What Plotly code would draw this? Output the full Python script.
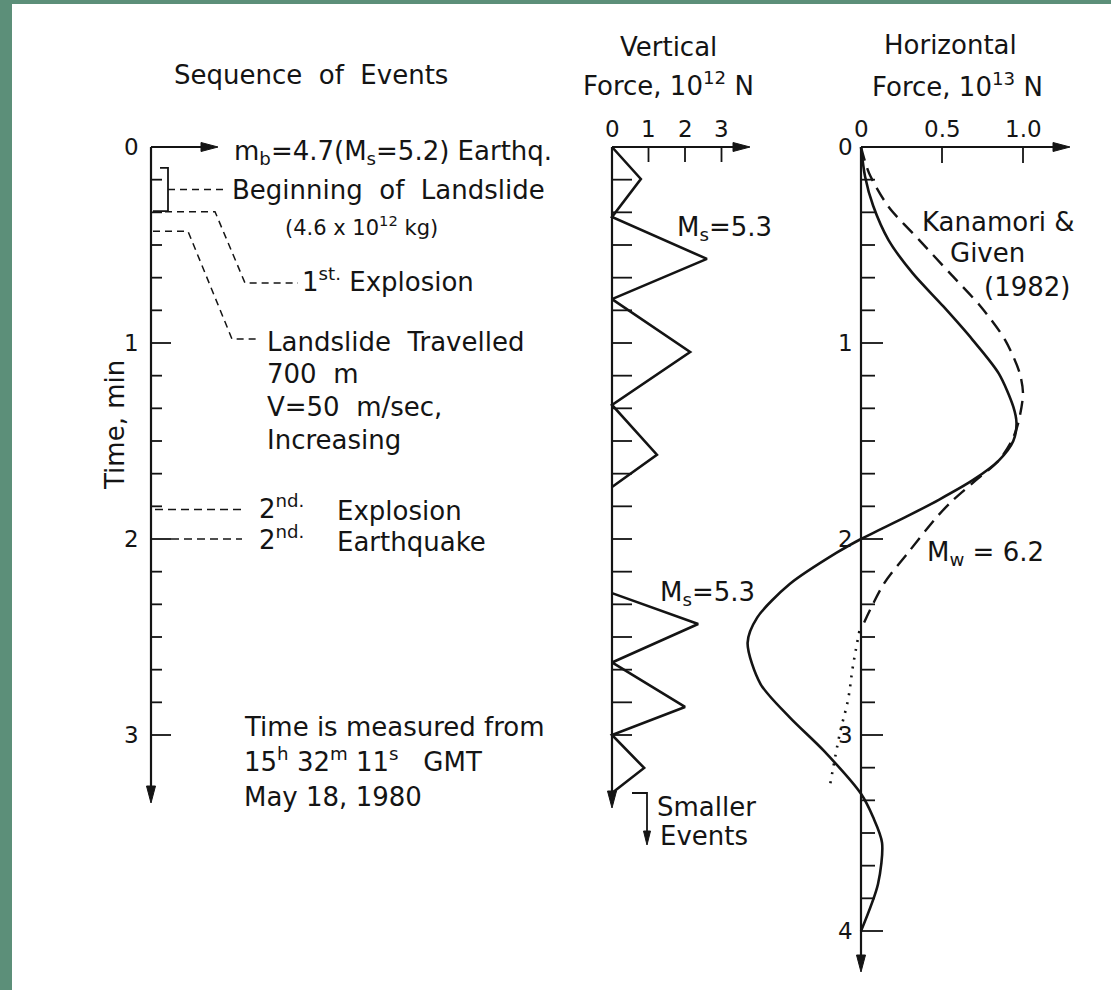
import plotly.graph_objects as go

W, H = 1111, 990
FONT = "DejaVu Sans"
INK = "#141414"
GREEN = "#5c8f79"

# ---------------- data ----------------
# Vertical force, 10^12 N, versus time in minutes
vf_time = [0.0, 0.163, 0.357, 0.571, 0.776, 1.046, 1.316, 1.57, 1.735, None,
           2.276, 2.434, 2.63, 2.857, 3.0, 3.168, 3.296]
vf_force = [0.0, 0.79, 0.0, 2.60, 0.0, 2.14, 0.0, 1.23, 0.0, None,
            0.0, 2.36, 0.0, 2.00, 0.0, 0.88, 0.0]

# Horizontal force, 10^13 N (solid curve)
hf_time = [0.0, 0.15, 0.30, 0.475, 0.645, 0.815, 0.985, 1.155, 1.325, 1.41, 1.50,
           1.60, 1.70, 1.80, 1.886, 2.0, 2.07, 2.23, 2.40, 2.53, 2.74, 2.91, 3.08,
           3.30, 3.42, 3.55, 3.76, 4.0]
hf_force = [0.0, 0.025, 0.075, 0.17, 0.32, 0.51, 0.69, 0.85, 0.94, 0.96, 0.94,
            0.85, 0.69, 0.48, 0.28, 0.0, -0.15, -0.44, -0.64, -0.70, -0.62, -0.44, -0.23,
            0.0, 0.075, 0.13, 0.105, 0.0]

# Kanamori & Given (1982) (dashed curve)
kg_time = [0.0, 0.134, 0.305, 0.475, 0.645, 0.815, 0.985, 1.155, 1.26, 1.41, 1.50,
           1.60, 1.70, 1.80, 1.886, 2.06, 2.23, 2.46]
kg_force = [0.0, 0.05, 0.17, 0.36, 0.55, 0.74, 0.89, 0.98, 1.0, 0.97, 0.93,
            0.85, 0.71, 0.57, 0.47, 0.30, 0.14, 0.0]

# dotted branch
dot_time = [2.47, 2.65, 2.82, 2.99, 3.25]
dot_force = [-0.01, -0.05, -0.08, -0.13, -0.19]

# event times (min)
slide_begin = [0.107, 0.327]
explosion1_t = 0.33
travelled_t = 0.43
explosion2_t = 1.85
quake2_t = 2.0

time_ticks_left = [0, 1, 2, 3]
time_ticks_right = [0, 1, 2, 3, 4]
vf_ticks = [0, 1, 2, 3]
vf_tick_labels = ["0", "1", "2", "3"]
hf_ticks = [0, 0.5, 1.0]
hf_tick_labels = ["0", "0.5", "1.0"]

# ---------------- layout geometry (pixels) ----------------
Y0 = 147.0          # pixel row of t = 0
PPM = 196.0         # pixels per minute
XL = 151.0          # left time axis column (left panel x is in pixels)
XV0, PV = 612.0, 36.5    # vertical force axis origin and px per unit
XH0, PH = 861.0, 162.0   # horizontal force axis origin and px per unit


def row(yp):
    return (yp - Y0) / PPM


fig = go.Figure()


def line(x, y, xa="x", w=2.2, dash="solid", shape="linear", smoothing=1.0):
    fig.add_trace(go.Scatter(x=x, y=y, xaxis=xa, yaxis="y", mode="lines",
                             line=dict(color=INK, width=w, dash=dash, shape=shape,
                                       smoothing=smoothing),
                             hoverinfo="skip", showlegend=False))


shapes = []
annotations = []


def arrowhead(x, y, xref, direction, L=17, half=4.5):
    if direction == "down":
        path = f"M0,0 L{-half},{L} L{half},{L} Z"
    else:  # right
        path = f"M0,0 L{-L},{half} L{-L},{-half} Z"
    shapes.append(dict(type="path", xref=xref, yref="y", xsizemode="pixel", ysizemode="pixel",
                       xanchor=x, yanchor=y, path=path, fillcolor=INK,
                       line=dict(color=INK, width=1)))


def txt(s, xp, yp, size=26, anchor="left", angle=0):
    annotations.append(dict(text=s, x=xp / W, y=1 - yp / H, xref="paper", yref="paper",
                            xanchor=anchor, yanchor="middle", showarrow=False,
                            textangle=angle,
                            font=dict(size=size, family=FONT, color=INK)))


# ---------------- left panel : sequence of events ----------------
t_end_left = row(803)
line([XL, XL], [0, t_end_left - 0.03])
arrowhead(XL, t_end_left, "x", "down")
line([XL, 205], [0, 0])
arrowhead(218, 0, "x", "right")
tx, ty = [], []
for k in range(1, 19):
    t = k / 6
    L = 20 if k % 6 == 0 else 11
    tx += [XL, XL + L, None]
    ty += [t, t, None]
line(tx, ty, w=1.8)
for t in time_ticks_left:
    annotations.append(dict(text=str(t), x=XL, y=t, xref="x", yref="y", xanchor="right",
                            xshift=-10, yanchor="middle", showarrow=False,
                            font=dict(size=23, family=FONT, color=INK)))

# bracket for beginning of landslide
line([160, 168, 168, 153], [slide_begin[0], slide_begin[0], slide_begin[1], slide_begin[1]], w=1.8)
mid = (slide_begin[0] + slide_begin[1]) / 2
line([168, 226], [mid, mid], w=1.6, dash="7px,5px")
# leaders
line([153, 215, 245, 298], [explosion1_t, explosion1_t, row(283), row(283)], w=1.5, dash="7px,5px")
line([153, 188, 232, 258], [travelled_t, travelled_t, row(339), row(339)], w=1.5, dash="7px,5px")
line([155, 242], [explosion2_t, explosion2_t], w=1.5, dash="8px,5px")
line([171, 242], [quake2_t, quake2_t], w=1.6, dash="8px,5px")

txt("Sequence  of  Events", 311, 75, anchor="center")
txt("m<sub>b</sub>=4.7(M<sub>s</sub>=5.2) Earthq.", 232, 152)
txt("Beginning  of  Landslide", 230, 190)
txt("(4.6 x 10<sup>12</sup> kg)", 283, 226, size=21)
txt("1<sup>st.</sup> Explosion", 300, 280)
txt("Landslide  Travelled", 265, 342)
txt("700  m", 265, 374)
txt("V=50  m/sec,", 265, 407)
txt("Increasing", 265, 440)
txt("2<sup>nd.</sup>", 257, 507)
txt("Explosion", 335, 511)
txt("2<sup>nd.</sup>", 257, 538)
txt("Earthquake", 335, 542)
txt("Time is measured from", 242, 727)
txt("15<sup>h</sup> 32<sup>m</sup> 11<sup>s</sup>   GMT", 242, 760)
txt("May 18, 1980", 242, 797)
txt("Time, min", 98, 425, angle=-90)

# ---------------- middle panel : vertical force ----------------
t_end_mid = row(808)
line([0, 0], [0, t_end_mid - 0.03], xa="x2")
arrowhead(0, t_end_mid, "x2", "down")
v_end = (750 - XV0) / PV
line([0, v_end - 0.3], [0, 0], xa="x2")
arrowhead(v_end, 0, "x2", "right")
tx, ty = [], []
for k in range(1, 19):
    t = k / 6
    tx += [0, 20 / PV, None]
    ty += [t, t, None]
for v in vf_ticks[1:]:
    tx += [v, v, None]
    ty += [0, 15 / PPM, None]
line(tx, ty, xa="x2", w=1.8)
for v, lab in zip(vf_ticks, vf_tick_labels):
    annotations.append(dict(text=lab, x=v, y=0, xref="x2", yref="y", xanchor="center",
                            yanchor="middle", yshift=18, showarrow=False,
                            font=dict(size=23, family=FONT, color=INK)))
line(vf_force, vf_time, xa="x2", w=2.6)
# smaller events pointer
line([632, 647, 647], [row(793), row(793), row(832)], w=1.8)
arrowhead(647, row(845), "x", "down", L=14, half=3.5)

txt("Vertical", 668, 47, anchor="center")
txt("Force, 10<sup>12</sup> N", 668, 84, anchor="center")
txt("M<sub>s</sub>=5.3", 675, 228)
txt("M<sub>s</sub>=5.3", 658, 593)
txt("Smaller", 655, 807)
txt("Events", 658, 836)

# ---------------- right panel : horizontal force ----------------
t_end_r = row(972)
line([0, 0], [0, t_end_r - 0.03], xa="x3")
arrowhead(0, t_end_r, "x3", "down")
h_end = (1070 - XH0) / PH
line([0, h_end - 0.06], [0, 0], xa="x3")
arrowhead(h_end, 0, "x3", "right")
tx, ty = [], []
for k in range(1, 25):
    t = k / 6
    L = 22 if k % 6 == 0 else 14
    tx += [0, L / PH, None]
    ty += [t, t, None]
for v in hf_ticks[1:]:
    tx += [v, v, None]
    ty += [0, 16 / PPM, None]
line(tx, ty, xa="x3", w=1.8)
for v, lab in zip(hf_ticks, hf_tick_labels):
    annotations.append(dict(text=lab, x=v, y=0, xref="x3", yref="y", xanchor="center",
                            yanchor="middle", yshift=18, showarrow=False,
                            font=dict(size=23, family=FONT, color=INK)))
for t in time_ticks_right:
    annotations.append(dict(text=str(t), x=0, y=t, xref="x3", yref="y", xanchor="right",
                            xshift=-6, yanchor="middle", showarrow=False,
                            font=dict(size=23, family=FONT, color=INK)))

line(hf_force, hf_time, xa="x3", w=2.6, shape="spline", smoothing=0.8)
line(kg_force, kg_time, xa="x3", w=2.4, dash="14px,8px", shape="spline", smoothing=0.8)
line(dot_force, dot_time, xa="x3", w=2.6, dash="2px,7px", shape="spline")

txt("Horizontal", 950, 45, anchor="center")
txt("Force, 10<sup>13</sup> N", 957, 85, anchor="center")
txt("Kanamori &amp;", 998, 222, anchor="center")
txt("Given", 987, 253, anchor="center")
txt("(1982)", 1027, 287, anchor="center")
txt("M<sub>w</sub> = 6.2", 925, 553)

# white page on green frame
shapes.insert(0, dict(type="rect", xref="paper", yref="paper", x0=12 / W, x1=1, y0=0,
                      y1=1 - 4 / H, fillcolor="white", line=dict(width=0), layer="below"))

ax_common = dict(visible=False, domain=[0, 1], fixedrange=True)
fig.update_layout(
    width=W, height=H, margin=dict(l=0, r=0, t=0, b=0),
    paper_bgcolor=GREEN, plot_bgcolor="rgba(0,0,0,0)",
    xaxis=dict(range=[0, W], **ax_common),
    xaxis2=dict(range=[-XV0 / PV, (W - XV0) / PV], overlaying="x", anchor="y", **ax_common),
    xaxis3=dict(range=[-XH0 / PH, (W - XH0) / PH], overlaying="x", anchor="y", **ax_common),
    yaxis=dict(range=[(H - Y0) / PPM, -Y0 / PPM], visible=False, domain=[0, 1], fixedrange=True),
    shapes=shapes, annotations=annotations, showlegend=False,
)
fig.write_html("out.html")
